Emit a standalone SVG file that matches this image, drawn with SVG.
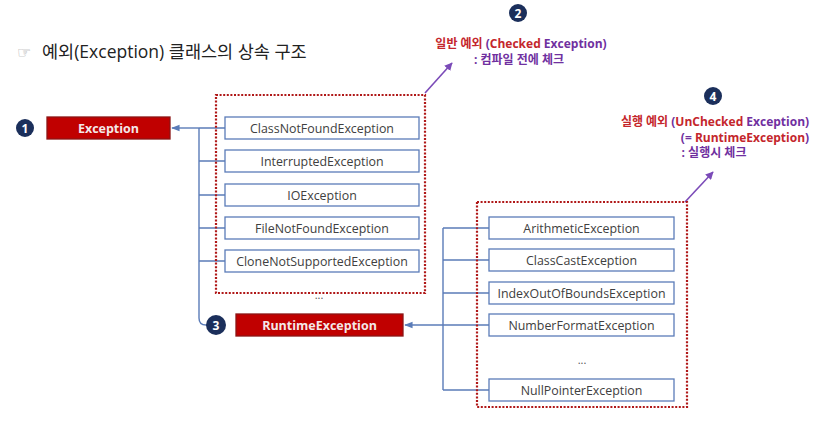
<svg xmlns="http://www.w3.org/2000/svg" width="826" height="428" viewBox="0 0 826 428">
<defs>
<style>
.bg{fill:#fff}
.box{fill:#fff;stroke:#5B7CB8;stroke-width:1.3}
.btxt{font-family:"Open Sans","Liberation Sans",sans-serif;font-size:12.4px;fill:#404040;text-anchor:middle;dominant-baseline:central}
.rbox{fill:#C00000;stroke:#8C1515;stroke-width:1.3}
.rtxt{font-family:"Open Sans","Liberation Sans",sans-serif;font-size:12.5px;font-weight:bold;fill:#F4E8E8;text-anchor:middle;dominant-baseline:central}
.dot{fill:none;stroke:#B01818;stroke-width:2.2;stroke-dasharray:2 1.6}
.wire{fill:none;stroke:#5B7CB8;stroke-width:1.4}
.num{fill:#1B2F5B}
.ntxt{font-family:"Open Sans","Liberation Sans",sans-serif;font-size:12px;font-weight:bold;fill:#fff;text-anchor:middle;dominant-baseline:central}
.lab{font-family:"Open Sans","Noto Sans CJK KR",sans-serif;font-size:12px;font-weight:bold;text-anchor:middle}
.red{fill:#C4262C}
.pur{fill:#7030A0}
.ptr{stroke:#7B4BB8;stroke-width:1.6;fill:none}
.ell{font-family:"Open Sans","Liberation Sans",sans-serif;font-size:11px;fill:#555;text-anchor:middle}
</style>
<marker id="ah" viewBox="0 0 10 10" refX="9" refY="5" markerWidth="6" markerHeight="6" orient="auto-start-reverse"><path d="M0,1 L10,5 L0,9 z" fill="#5B7CB8"/></marker>
<marker id="ap" viewBox="0 0 10 10" refX="9" refY="5" markerWidth="5" markerHeight="5" orient="auto"><path d="M0,0 L10,5 L0,10 z" fill="#7B4BB8"/></marker>
</defs>
<rect class="bg" x="0" y="0" width="826" height="428"/>

<g id="title">
<text x="17" y="58" font-family="DejaVu Sans,sans-serif" font-size="16" fill="#9a9a9a">☞</text>
<text x="42" y="58" font-family="'Open Sans','Noto Sans CJK KR',sans-serif" font-size="17.5" fill="#222">예외(Exception) 클래스의 상속 구조</text>
</g>

<g id="connectors">
<path class="wire" d="M199,128 L172,128" marker-end="url(#ah)"/>
<path class="wire" d="M199,128 V318 Q199,325 206,325 H207"/>
<path class="wire" d="M199,128 H225 M199,161 H225 M199,195 H225 M199,228 H225 M199,261 H225"/>
<path class="wire" d="M443,325 L405,325" marker-end="url(#ah)"/>
<path class="wire" d="M443,228 V390 M443,228 H489 M443,260 H489 M443,293 H489 M443,325 H489 M443,390 H489"/>
<path class="ptr" d="M425,93 L452,63" marker-end="url(#ap)"/>
<path class="ptr" d="M685,202 L713,172" marker-end="url(#ap)"/>
</g>

<g id="checked-group">
<rect class="dot" x="216" y="95" width="209" height="198"/>
</g>
<g id="unchecked-group">
<rect class="dot" x="477" y="202" width="210" height="205"/>
</g>

<g id="exception">
<rect class="rbox" x="47" y="117" width="123" height="22"/>
<text class="rtxt" x="108.5" y="128">Exception</text>
</g>
<g id="badge1"><circle class="num" cx="25" cy="128" r="9"/><text class="ntxt" x="25" y="128">1</text></g>

<g id="runtime">
<rect class="rbox" x="236" y="314" width="167" height="22"/>
<text class="rtxt" x="319.5" y="325">RuntimeException</text>
</g>
<g id="badge3"><circle class="num" cx="216" cy="325" r="10"/><text class="ntxt" x="216" y="325">3</text></g>

<g id="n-classnotfound"><rect class="box" x="225" y="117" width="194" height="22"/><text class="btxt" x="322" y="128">ClassNotFoundException</text></g>
<g id="n-interrupted"><rect class="box" x="225" y="150" width="194" height="22"/><text class="btxt" x="322" y="161">InterruptedException</text></g>
<g id="n-io"><rect class="box" x="225" y="184" width="194" height="22"/><text class="btxt" x="322" y="195">IOException</text></g>
<g id="n-filenotfound"><rect class="box" x="225" y="217" width="194" height="22"/><text class="btxt" x="322" y="228">FileNotFoundException</text></g>
<g id="n-clonenotsupported"><rect class="box" x="225" y="250" width="194" height="22"/><text class="btxt" x="322" y="261">CloneNotSupportedException</text></g>
<text class="ell" x="319" y="299">...</text>

<g id="n-arithmetic"><rect class="box" x="489" y="217" width="185" height="22"/><text class="btxt" x="581.5" y="228">ArithmeticException</text></g>
<g id="n-classcast"><rect class="box" x="489" y="249" width="185" height="22"/><text class="btxt" x="581.5" y="260">ClassCastException</text></g>
<g id="n-index"><rect class="box" x="489" y="282" width="185" height="22"/><text class="btxt" x="581.5" y="293">IndexOutOfBoundsException</text></g>
<g id="n-numberformat"><rect class="box" x="489" y="314" width="185" height="22"/><text class="btxt" x="581.5" y="325">NumberFormatException</text></g>
<text class="ell" x="582" y="364">...</text>
<g id="n-nullpointer"><rect class="box" x="489" y="379" width="185" height="22"/><text class="btxt" x="581.5" y="390">NullPointerException</text></g>

<g id="label2">
<circle class="num" cx="518" cy="13" r="9"/><text class="ntxt" x="518" y="13">2</text>
<text class="lab" x="521" y="48"><tspan class="red">일반 예외 </tspan><tspan class="pur">(</tspan><tspan class="red">Checked</tspan><tspan class="pur"> Exception)</tspan></text>
<text class="lab pur" x="519" y="64">: 컴파일 전에 체크</text>
</g>

<g id="label4">
<circle class="num" cx="713" cy="96" r="9"/><text class="ntxt" x="713" y="96">4</text>
<text class="lab" x="715" y="126"><tspan class="red">실행 예외 </tspan><tspan class="pur">(</tspan><tspan class="red">UnChecked</tspan><tspan class="pur"> Exception)</tspan></text>
<text class="lab" x="745" y="141.5"><tspan class="pur">(= </tspan><tspan class="red">RuntimeException</tspan><tspan class="pur">)</tspan></text>
<text class="lab pur" x="714" y="157">: 실행시 체크</text>
</g>
</svg>
